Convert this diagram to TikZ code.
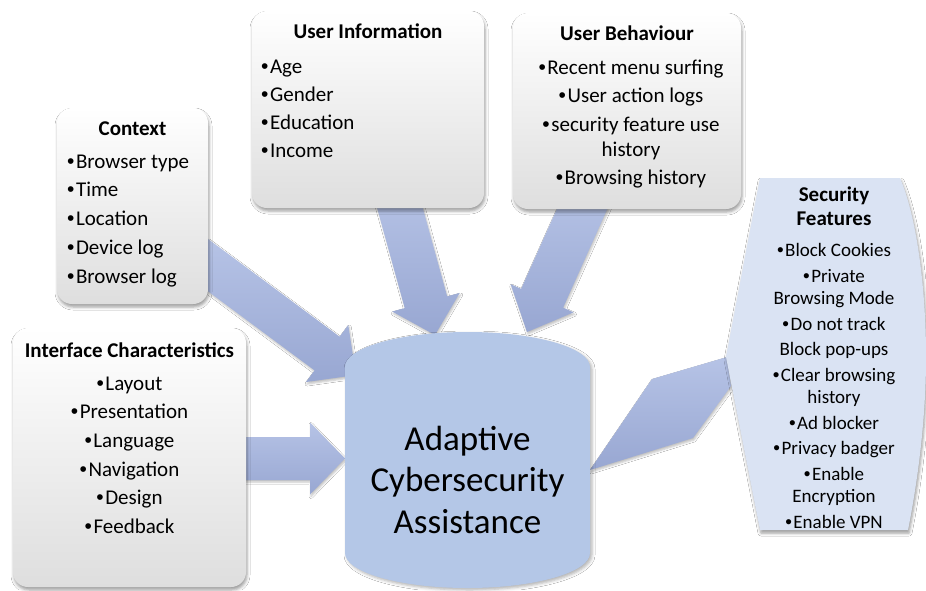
\documentclass[tikz,border=0pt]{standalone}
\usepackage{fontspec}
\setmainfont{Carlito}
\newfontfamily\bulfont{Liberation Sans}
\usetikzlibrary{calc,shadows.blur}
\definecolor{arrowtop}{RGB}{182,195,230}
\definecolor{arrowbot}{RGB}{152,167,210}
\definecolor{cylfill}{RGB}{180,199,231}
\definecolor{secfill}{RGB}{218,227,243}
\definecolor{boxbot}{RGB}{222,222,222}
\newcommand\fl[1]{\rule{0pt}{#1}}
\newcommand\bul{{\bulfont •}\kern1.5pt}
\newcommand\blockarr[5]{%
  \coordinate (bah) at ($(#2)!#5!(#1)$);
  \path[arrowshape] ($(#1)!#3!90:(#2)$) -- ($(bah)!#3!90:(#2)$) -- ($(bah)!#4!90:(#2)$) -- (#2)
     -- ($(bah)!#4!-90:(#2)$) -- ($(bah)!#3!-90:(#2)$) -- ($(#1)!#3!-90:(#2)$) -- cycle;}
\begin{document}
\begin{tikzpicture}[x=1pt,y=-1pt,
  arrowshape/.style={top color=arrowtop, bottom color=arrowbot,
    blur shadow={shadow xshift=1pt,shadow yshift=-2pt,shadow blur radius=2pt,shadow opacity=25}},
  infobox/.style={rectangle, rounded corners=15pt, top color=white, bottom color=boxbot,
    blur shadow={shadow xshift=1pt,shadow yshift=-3pt,shadow blur radius=3pt,shadow opacity=38}, inner sep=0pt},
  cylshape/.style={fill=cylfill, blur shadow={shadow xshift=2pt,shadow yshift=-2pt,shadow blur radius=3pt,shadow opacity=30}},
  secshape/.style={fill=secfill, blur shadow={shadow xshift=1pt,shadow yshift=-3pt,shadow blur radius=3pt,shadow opacity=40}},
  ttl/.style={font=\fontsize{21}{24.5}\selectfont\bfseries, inner sep=0pt, align=center, anchor=north},
  itm/.style={font=\fontsize{21}{24.5}\selectfont, inner sep=0pt},
  sectxt/.style={font=\fontsize{19}{22.5}\selectfont, inner sep=0pt, align=center, anchor=north},
  centxt/.style={font=\fontsize{35}{41.5}\selectfont, inner sep=0pt, align=center, anchor=north}]
\fill[white] (0,0) rectangle (926,590);
\useasboundingbox (0,0) rectangle (926,590);
% block arrows
\coordinate (cA) at (195.4,255.8); \coordinate (cB) at (356,375);
\blockarr{cA}{cB}{21pt}{35.5pt}{36pt}
\coordinate (iA) at (235,458.5); \coordinate (iB) at (345,458.5);
\blockarr{iA}{iB}{21.5pt}{36pt}{35pt}
\coordinate (uA) at (395.1,190.4); \coordinate (uB) at (435,335);
\blockarr{uA}{uB}{22pt}{35pt}{34pt}
\coordinate (bA) at (588.3,195.1); \coordinate (bB) at (527,332);
\blockarr{bA}{bB}{23pt}{34.5pt}{37pt}
\coordinate (sA) at (590,470); \coordinate (sB) at (727,357);
\path[arrowshape] (sA) -- (652,379) -- (sB) -- (731,386) -- (693,438) -- cycle;
% boxes
\node[infobox, minimum width=151pt, minimum height=196pt] (ctx) at (132.5,206) {};
\node[infobox, minimum width=233pt, minimum height=259pt] (ifc) at (129.5,457.5) {};
\node[infobox, minimum width=232pt, minimum height=197pt] (uinf) at (368,109.5) {};
\node[infobox, minimum width=228pt, minimum height=196pt] (ubeh) at (627,111) {};
% security shape
\path[secshape] (760,178) -- (900,178) .. controls (916,215) and (926,285) .. (926,357)
   .. controls (926,425) and (916,490) .. (908,530) -- (760,530) -- (726,357) -- cycle;
% cylinder
\path[cylshape] (345,367) .. controls (345,347.7) and (399.9,332) .. (467.5,332)
   .. controls (535.1,332) and (590,347.7) .. (590,367) -- (590,553)
   .. controls (590,572.3) and (535.1,588) .. (467.5,588)
   .. controls (399.9,588) and (345,572.3) .. (345,553) -- cycle;
% texts
\node[ttl] (ctxT) at (132.5,118) {\fl{17pt}Context};
\node[itm, align=left, anchor=north west] (ctxL) at (67,151)
  {\fl{17pt}\bul Browser type\\[4.2pt]\bul Time\\[4.2pt]\bul Location\\[4.2pt]\bul Device log\\[4.2pt]\bul Browser log};
\node[ttl] (ifcT) at (129.5,340) {\fl{17pt}Interface Characteristics};
\node[itm, align=center, anchor=north] (ifcL) at (129.5,373)
  {\fl{17pt}\bul Layout\\[4.1pt]\bul Presentation\\[4.1pt]\bul Language\\[4.1pt]\bul Navigation\\[4.1pt]\bul Design\\[4.1pt]\bul Feedback};
\node[ttl] (uinfT) at (368,21) {\fl{17pt}User Information};
\node[itm, align=left, anchor=north west] (uinfL) at (261,56)
  {\fl{17pt}\bul Age\\[3.7pt]\bul Gender\\[3.7pt]\bul Education\\[3.7pt]\bul Income};
\node[ttl] (ubehT) at (627,23.5) {\fl{17pt}User Behaviour};
\node[itm, align=center, anchor=north] (ubehL) at (631,57)
  {\fl{17pt}\bul Recent menu surfing\\[4.2pt]\bul User action logs\\[4.2pt]\bul security feature use\\history\\[4.2pt]\bul Browsing history};
\node[sectxt, font=\fontsize{21}{23.3}\selectfont\bfseries] (secT) at (834,185.7) {\fl{16pt}Security\\Features};
\node[sectxt] (secL) at (834,241.7)
  {\fl{15pt}\bul Block Cookies\\[3pt]\bul Private\\Browsing Mode\\[3pt]\bul Do not track\\[3pt]Block pop-ups\\[3pt]\bul Clear browsing\\history\\[3pt]\bul Ad blocker\\[3pt]\bul Privacy badger\\[3pt]\bul Enable\\Encryption\\[3pt]\bul Enable VPN};
\node[centxt] (aca) at (467.5,422) {\fl{28pt}Adaptive\\Cybersecurity\\Assistance};
\end{tikzpicture}
\end{document}
